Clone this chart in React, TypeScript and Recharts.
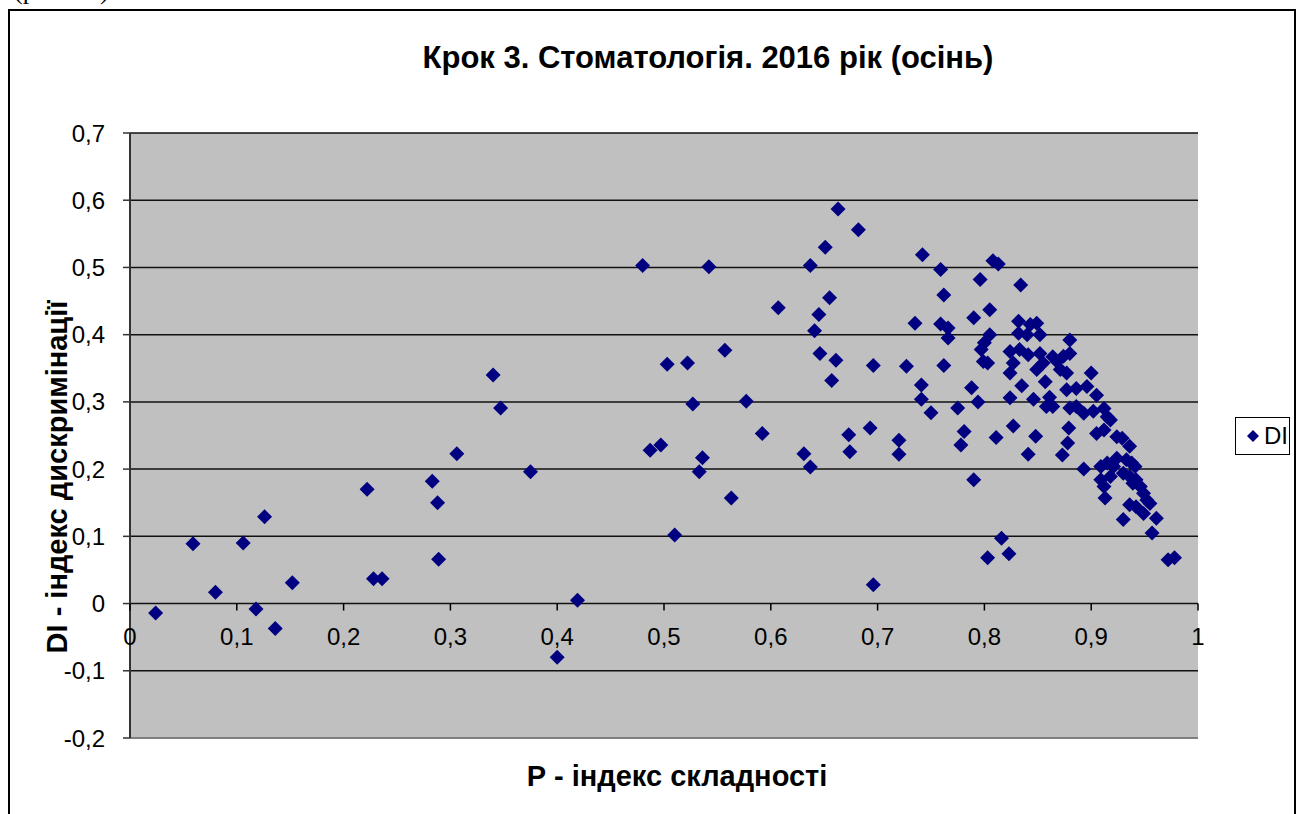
import React from "react";
import { CartesianGrid, Scatter, ScatterChart, XAxis, YAxis } from "recharts";

// P - difficulty index, DI - discrimination index (one value per test item)
const pIndex = [
  0.024, 0.059, 0.08, 0.106, 0.118, 0.126, 0.136, 0.152, 0.222, 0.228,
  0.236, 0.283, 0.288, 0.289, 0.306, 0.34, 0.347, 0.375, 0.4, 0.419,
  0.48, 0.487, 0.497, 0.503, 0.51, 0.522, 0.527, 0.533, 0.536, 0.542,
  0.557, 0.563, 0.577, 0.592, 0.607, 0.631, 0.637, 0.637, 0.641, 0.645,
  0.646, 0.651, 0.655, 0.657, 0.661, 0.673, 0.674, 0.682, 0.663, 0.693,
  0.696, 0.696, 0.72, 0.72, 0.727, 0.735, 0.741, 0.741, 0.742, 0.75,
  0.759, 0.759, 0.762, 0.762, 0.766, 0.766, 0.775, 0.778, 0.781, 0.788,
  0.79, 0.79, 0.794, 0.796, 0.797, 0.8, 0.799, 0.803, 0.803, 0.805,
  0.805, 0.808, 0.813, 0.811, 0.816, 0.823, 0.824, 0.824, 0.824, 0.827,
  0.827, 0.832, 0.832, 0.833, 0.834, 0.835, 0.84, 0.841, 0.841, 0.843,
  0.846, 0.848, 0.849, 0.849, 0.852, 0.852, 0.855, 0.857, 0.858, 0.864,
  0.864, 0.868, 0.871, 0.873, 0.874, 0.877, 0.877, 0.878, 0.879, 0.88,
  0.88, 0.88, 0.886, 0.886, 0.893, 0.893, 0.896, 0.9, 0.902, 0.905,
  0.905, 0.909, 0.909, 0.912, 0.912, 0.912, 0.913, 0.915, 0.915, 0.918,
  0.918, 0.921, 0.924, 0.924, 0.929, 0.93, 0.93, 0.933, 0.936, 0.936,
  0.936, 0.938, 0.939, 0.941, 0.942, 0.942, 0.946, 0.949, 0.949, 0.952,
  0.955, 0.957, 0.961, 0.972, 0.978, 0.861,
];

const diIndex = [
  -0.014, 0.089, 0.017, 0.09, -0.008, 0.129, -0.037, 0.031, 0.17, 0.037,
  0.037, 0.182, 0.15, 0.066, 0.223, 0.34, 0.291, 0.196, -0.08, 0.005,
  0.503, 0.228, 0.236, 0.356, 0.102, 0.358, 0.297, 0.196, 0.217, 0.501,
  0.377, 0.157, 0.301, 0.253, 0.44, 0.223, 0.503, 0.203, 0.406, 0.43,
  0.372, 0.53, 0.455, 0.332, 0.362, 0.251, 0.226, 0.556, 0.587, 0.261,
  0.354, 0.028, 0.243, 0.222, 0.353, 0.417, 0.325, 0.304, 0.519, 0.284,
  0.497, 0.416, 0.459, 0.354, 0.41, 0.395, 0.291, 0.236, 0.256, 0.321,
  0.425, 0.184, 0.3, 0.482, 0.378, 0.388, 0.36, 0.358, 0.068, 0.437,
  0.4, 0.51, 0.505, 0.247, 0.097, 0.074, 0.375, 0.343, 0.306, 0.358,
  0.264, 0.42, 0.402, 0.378, 0.474, 0.324, 0.4, 0.37, 0.222, 0.415,
  0.304, 0.249, 0.417, 0.348, 0.4, 0.372, 0.358, 0.33, 0.293, 0.293,
  0.367, 0.36, 0.348, 0.221, 0.368, 0.343, 0.318, 0.239, 0.261, 0.392,
  0.372, 0.291, 0.32, 0.293, 0.283, 0.2, 0.323, 0.343, 0.286, 0.31,
  0.253, 0.204, 0.184, 0.29, 0.258, 0.174, 0.157, 0.278, 0.209, 0.273,
  0.189, 0.204, 0.248, 0.216, 0.246, 0.194, 0.125, 0.214, 0.234, 0.189,
  0.147, 0.209, 0.179, 0.204, 0.184, 0.144, 0.174, 0.164, 0.134, 0.154,
  0.149, 0.105, 0.127, 0.065, 0.068, 0.307,
];

const xTicks = [0, 0.1, 0.2, 0.3, 0.4, 0.5, 0.6, 0.7, 0.8, 0.9, 1];
const yTicks = [-0.2, -0.1, 0, 0.1, 0.2, 0.3, 0.4, 0.5, 0.6, 0.7];

const points = pIndex.map((p, i) => ({ p, di: diIndex[i] }));

const W = 1302;
const H = 814;
const TOP = 133;
const PLOT_H = 605;
const Y_MIN = -0.2;
const Y_MAX = 0.7;
// Excel draws the category axis where y = 0
const zeroY = TOP + (PLOT_H * Y_MAX) / (Y_MAX - Y_MIN);

const NAVY = "#000080";
const FONT = "'Liberation Sans', Arial, sans-serif";

const fmt = (v: number) => String(Math.round(v * 10) / 10).replace(".", ",");

function Diamond(props: any) {
  const { cx, cy } = props;
  const r = 7.5;
  return (
    <polygon
      points={`${cx},${cy - r} ${cx + r},${cy} ${cx},${cy + r} ${cx - r},${cy}`}
      fill={NAVY}
    />
  );
}

function XTick(props: any) {
  const { x, payload } = props;
  return (
    <g>
      <line x1={x} x2={x} y1={zeroY} y2={zeroY + 7} stroke="#000" strokeWidth={1.5} />
      <text x={x} y={zeroY + 41} textAnchor="middle" fontSize={24} fontFamily={FONT} fill="#000">
        {fmt(payload.value)}
      </text>
    </g>
  );
}

export default function App() {
  return (
    <div
      style={{
        position: "absolute",
        left: 0,
        top: 0,
        width: W,
        height: H,
        background: "#fff",
        overflow: "hidden",
        fontFamily: FONT,
      }}
    >
      <div
        style={{
          position: "absolute",
          left: 14,
          top: -24,
          fontFamily: "'Liberation Serif', serif",
          fontSize: 26,
          color: "#000",
        }}
      >
        (рис. 12)
      </div>
      <div
        style={{
          position: "absolute",
          left: 8,
          top: 9,
          width: 1288,
          height: 860,
          border: "2px solid #000",
          boxSizing: "border-box",
        }}
      />
      <div
        style={{
          position: "absolute",
          left: 0,
          width: W,
          top: 40,
          textAlign: "center",
          paddingLeft: 114,
          boxSizing: "border-box",
          fontSize: 31,
          fontWeight: "bold",
          color: "#000",
        }}
      >
        Крок 3. Стоматологія. 2016 рік (осінь)
      </div>

      <div style={{ position: "absolute", left: 0, top: 0 }}>
        <ScatterChart width={W} height={H} margin={{ top: TOP, right: 104, bottom: 0, left: 0 }}>
          <CartesianGrid
            vertical={false}
            stroke="#111"
            strokeWidth={1.5}
            fill="#c0c0c0"
            fillOpacity={1}
          />
          <XAxis
            type="number"
            dataKey="p"
            domain={[0, 1]}
            ticks={xTicks}
            height={76}
            axisLine={{ stroke: "#808080", strokeWidth: 2 }}
            tickLine={false}
            tick={<XTick />}
            interval={0}
          />
          <XAxis
            xAxisId="top"
            orientation="top"
            type="number"
            domain={[0, 1]}
            height={0}
            tick={false}
            tickLine={false}
            axisLine={{ stroke: "#808080", strokeWidth: 2 }}
          />
          <YAxis
            type="number"
            dataKey="di"
            domain={[Y_MIN, Y_MAX]}
            ticks={yTicks}
            width={130}
            interval={0}
            axisLine={{ stroke: "#333", strokeWidth: 2 }}
            tickLine={{ stroke: "#333", strokeWidth: 1.5 }}
            tickSize={7}
            tickMargin={18}
            tickFormatter={(v) => fmt(Number(v))}
            tick={{ fill: "#000", fontSize: 24, fontFamily: FONT }}
          />
          <YAxis
            yAxisId="right"
            orientation="right"
            type="number"
            domain={[Y_MIN, Y_MAX]}
            width={0}
            tick={false}
            tickLine={false}
            axisLine={{ stroke: "#808080", strokeWidth: 2 }}
          />
          <Scatter data={points} shape={<Diamond />} isAnimationActive={false} />
        </ScatterChart>
      </div>

      <div
        style={{
          position: "absolute",
          left: 0,
          top: 760,
          width: 1354,
          textAlign: "center",
          fontSize: 29,
          fontWeight: "bold",
          color: "#000",
        }}
      >
        Р - індекс складності
      </div>
      <div
        style={{
          position: "absolute",
          left: 57,
          top: 477,
          transform: "translate(-50%, -50%) rotate(-90deg)",
          whiteSpace: "nowrap",
          fontSize: 29,
          fontWeight: "bold",
          color: "#000",
        }}
      >
        DI - індекс дискримінації
      </div>

      <div
        style={{
          position: "absolute",
          left: 1235,
          top: 417,
          width: 55,
          height: 38,
          border: "1px solid #000",
          boxSizing: "border-box",
          display: "flex",
          alignItems: "center",
          fontSize: 24,
          color: "#000",
        }}
      >
        <svg width={22} height={16} style={{ marginLeft: 6 }}>
          <polygon points="11,2 17,8 11,14 5,8" fill={NAVY} />
        </svg>
        <span>DI</span>
      </div>
    </div>
  );
}
